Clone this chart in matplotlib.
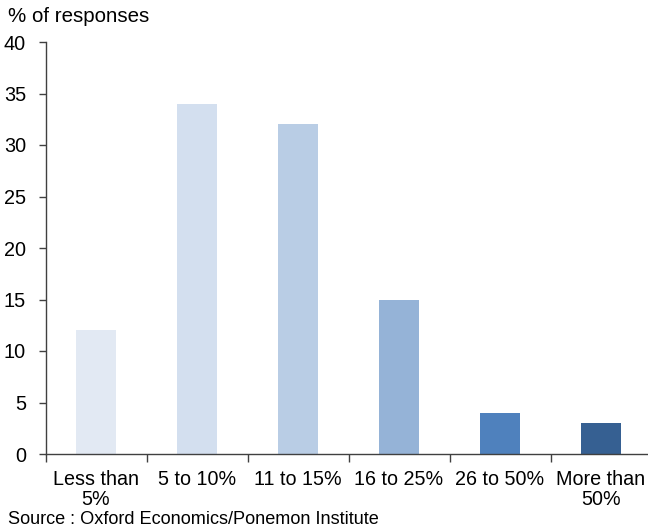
import matplotlib
matplotlib.use("Agg")
import matplotlib.pyplot as plt
from matplotlib.ticker import FixedLocator, NullFormatter
import numpy as np

plt.rcParams['font.family'] = ['Liberation Sans', 'DejaVu Sans']

categories = ["Less than\n5%", "5 to 10%", "11 to 15%", "16 to 25%", "26 to 50%", "More than\n50%"]
values = [12, 34, 32, 15, 4, 3]
colors = ["#E2E9F3", "#D3DFEF", "#B9CDE5", "#95B3D7", "#4F81BD", "#366092"]
y_ticks = [0, 5, 10, 15, 20, 25, 30, 35, 40]

fig = plt.figure(figsize=(6.48, 5.30), dpi=100)
ax = fig.add_axes([45.5 / 648, 1 - 454 / 530, 606 / 648, (454 - 42) / 530])

x = np.arange(len(categories))
ax.bar(x, values, width=0.405, color=colors, zorder=2)

ax.set_xlim(-0.5, len(categories) - 0.5)
ax.set_ylim(0, 40)
ax.set_yticks(y_ticks)

# Category labels centred under bars; ticks on the category boundaries
ax.set_xticks(x)
ax.set_xticklabels(categories, fontsize=14.2, linespacing=1.08)
ax.tick_params(axis='x', which='major', length=0, pad=11.5)
ax.xaxis.set_minor_locator(FixedLocator(np.arange(-0.5, len(categories), 1.0)))
ax.xaxis.set_minor_formatter(NullFormatter())
ax.tick_params(axis='x', which='minor', length=6, width=1.0, color='#404040', direction='out')
ax.tick_params(axis='y', length=5, width=1.0, color='#404040', direction='out', labelsize=14.3, pad=9)

for side in ['top', 'right']:
    ax.spines[side].set_visible(False)
for side in ['left', 'bottom']:
    ax.spines[side].set_color('#404040')
    ax.spines[side].set_linewidth(1.0)

fig.text(8 / 648, 1 - 17 / 530, "% of responses", fontsize=14.8, va='center', ha='left')
fig.text(8 / 648, 1 - 520 / 530, "Source : Oxford Economics/Ponemon Institute", fontsize=13.1, va='center', ha='left')

fig.savefig("out.png", dpi=100)
